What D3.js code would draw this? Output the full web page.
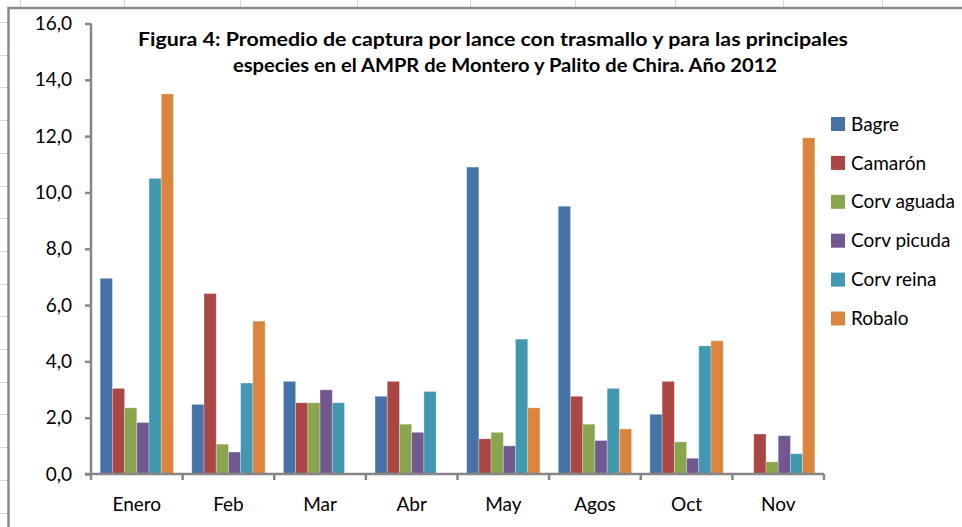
<!DOCTYPE html>
<html>
<head>
<meta charset="utf-8">
<script src="https://cdn.jsdelivr.net/npm/d3@7"></script>
<style>
  body { margin: 0; background: #fff; }
  svg { display: block; }
  text { font-family: Lato, "Open Sans", sans-serif; fill: #000; }
</style>
</head>
<body>
<div id="chart"></div>
<script>
// months and species
const months = ["Enero", "Feb", "Mar", "Abr", "May", "Agos", "Oct", "Nov"];
const species = ["Bagre", "Camarón", "Corv aguada", "Corv picuda", "Corv reina", "Robalo"];

// promedio de captura por lance, one array per species (null = no bar)
const bagre      = [6.95, 2.47, 3.29, 2.76, 10.9, 9.51, 2.12, null];
const camaron    = [3.04, 6.41, 2.53, 3.29, 1.25, 2.76, 3.29, 1.42];
const corvAguada = [2.35, 1.06, 2.53, 1.77, 1.48, 1.77, 1.14, 0.43];
const corvPicuda = [1.83, 0.78, 2.99, 1.48, 1.00, 1.19, 0.56, 1.36];
const corvReina  = [10.5, 3.23, 2.53, 2.93, 4.79, 3.04, 4.55, 0.72];
const robalo     = [13.5, 5.43, null, null, 2.35, 1.60, 4.73, 11.94];

const yTicks = [0, 2, 4, 6, 8, 10, 12, 14, 16];
const colors = ["#4572a7", "#aa4643", "#89a54e", "#71588f", "#4198af", "#db843d"];

const seriesValues = [bagre, camaron, corvAguada, corvPicuda, corvReina, robalo];
const data = months.map((m, i) => {
  const row = { month: m };
  species.forEach((s, j) => { row[s] = seriesValues[j][i]; });
  return row;
});

const W = 962, H = 527;
const svg = d3.select("#chart").append("svg").attr("width", W).attr("height", H);

// spreadsheet grid showing outside the chart frame
const gridColor = "#d0d7e5";
const grid = svg.append("g").attr("stroke", gridColor).attr("stroke-width", 1);
d3.range(0, 16).forEach(k => {
  const y = Math.round(22 + k * 32.7) + 0.5;
  grid.append("line").attr("x1", 0).attr("x2", 8).attr("y1", y).attr("y2", y);
});
[20, 124, 240, 357, 470, 575, 675, 783, 882].forEach(x => {
  grid.append("line").attr("x1", x + 0.5).attr("x2", x + 0.5).attr("y1", 0).attr("y2", 8);
});

// chart frame
svg.append("rect")
  .attr("x", 8.5).attr("y", 8)
  .attr("width", W + 20).attr("height", H + 20)
  .attr("fill", "#fff")
  .attr("stroke", "#8c8c8c").attr("stroke-width", 2.5);

const plot = { left: 91, right: 824, top: 23.5, bottom: 474 };

const x0 = d3.scaleBand().domain(months).range([plot.left, plot.right]).padding(0);
const bw = x0.bandwidth();
const x1 = d3.scaleBand().domain(species).range([bw * 0.1, bw * 0.9]).padding(0);
const y = d3.scaleLinear().domain([0, 16]).range([plot.bottom, plot.top]);
const z = d3.scaleOrdinal().domain(species).range(colors);

const fmt = d => d3.format(".1f")(d).replace(".", ",");

// bars
const g = svg.append("g");
g.selectAll("g")
  .data(data)
  .enter().append("g")
    .attr("transform", d => "translate(" + x0(d.month) + ",0)")
  .selectAll("rect")
  .data(d => species.map(s => ({ key: s, value: d[s] })).filter(d => d.value != null))
  .enter().append("rect")
    .attr("x", d => x1(d.key))
    .attr("y", d => y(d.value))
    .attr("width", x1.bandwidth())
    .attr("height", d => y(0) - y(d.value))
    .attr("fill", d => z(d.key))
    .attr("stroke", "rgba(255,255,255,0.35)")
    .attr("stroke-width", 0.8);

// y axis
const yAxis = svg.append("g")
  .attr("transform", "translate(" + plot.left + ",0)")
  .call(d3.axisLeft(y).tickValues(yTicks).tickFormat(fmt).tickSize(6).tickPadding(13));
yAxis.select(".domain").attr("stroke", "#868686").attr("stroke-width", 2.5)
  .attr("d", "M0," + plot.top + "V" + plot.bottom);
yAxis.selectAll(".tick line").attr("stroke", "#868686").attr("stroke-width", 2.5);
yAxis.selectAll(".tick text")
  .style("font-family", "Lato, sans-serif").attr("font-size", 19).attr("fill", "#000");

// x axis, ticks on the category boundaries
const xAxis = svg.append("g").attr("transform", "translate(0," + plot.bottom + ")");
xAxis.append("line")
  .attr("x1", plot.left - 6).attr("x2", plot.right)
  .attr("stroke", "#868686").attr("stroke-width", 2.5);
xAxis.selectAll("line.tk")
  .data(months.map(m => x0(m)).concat([plot.right]))
  .enter().append("line")
    .attr("class", "tk")
    .attr("x1", d => d).attr("x2", d => d)
    .attr("y1", 0).attr("y2", 6)
    .attr("stroke", "#868686").attr("stroke-width", 2.5);
xAxis.selectAll("text")
  .data(months)
  .enter().append("text")
    .attr("x", d => x0(d) + bw / 2)
    .attr("y", 37)
    .attr("text-anchor", "middle")
    .attr("font-size", 19)
    .text(d => d);

// title, stretched to the width it has in the original
const title = svg.append("g").attr("font-weight", "bold").attr("font-size", 19);
title.append("text").attr("x", 138).attr("y", 46)
  .attr("textLength", 710).attr("lengthAdjust", "spacingAndGlyphs")
  .text("Figura 4: Promedio de captura por lance con trasmallo y para las principales");
title.append("text").attr("x", 233).attr("y", 72)
  .attr("textLength", 544).attr("lengthAdjust", "spacingAndGlyphs")
  .text("especies en el AMPR de Montero y Palito de Chira. Año 2012");

// legend
const legend = svg.append("g").selectAll("g")
  .data(species)
  .enter().append("g")
    .attr("transform", (d, i) => "translate(831," + (124 + i * 38.9) + ")");
legend.append("rect")
  .attr("x", 0).attr("y", -7)
  .attr("width", 14).attr("height", 14)
  .attr("fill", z);
legend.append("text")
  .attr("x", 20).attr("dy", "0.35em")
  .attr("font-size", 19)
  .text(d => d);
</script>
</body>
</html>
